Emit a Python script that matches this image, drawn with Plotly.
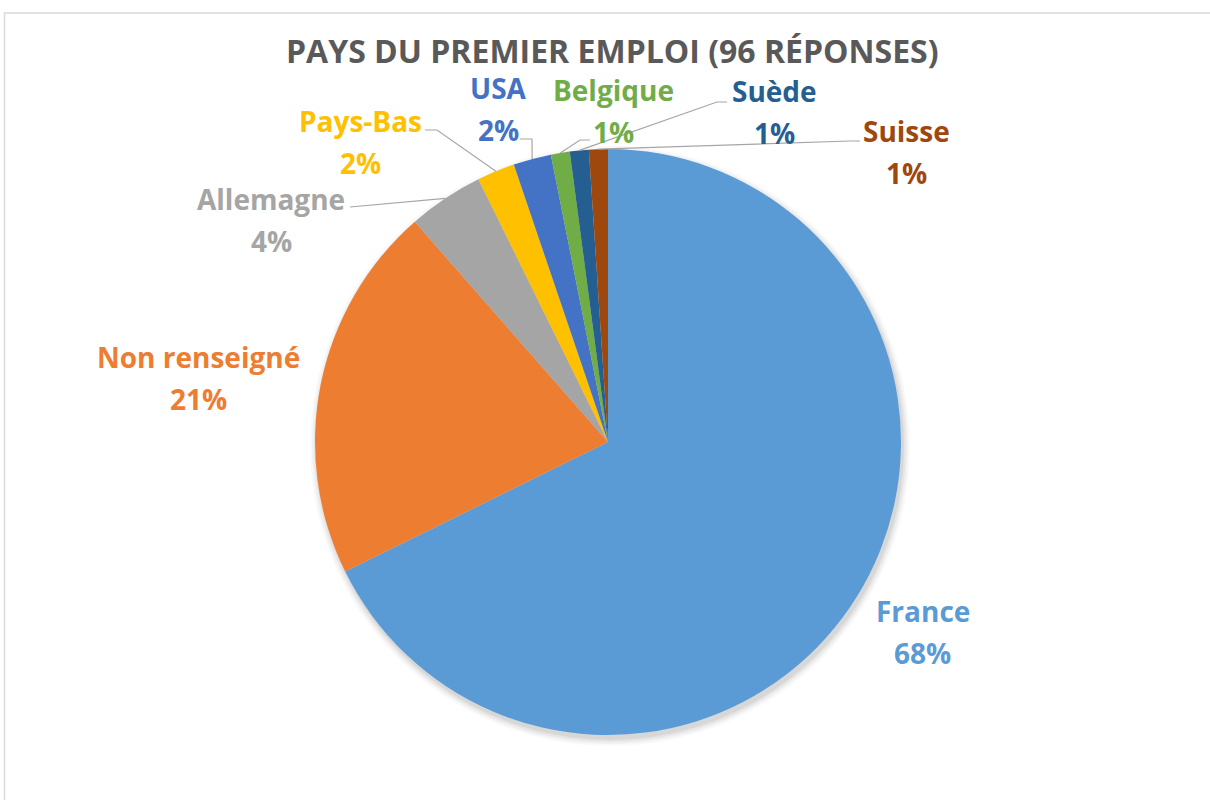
import math
import plotly.graph_objects as go

# ---------------- data ----------------
countries = ["France", "Non renseigné", "Allemagne", "Pays-Bas", "USA", "Belgique", "Suède", "Suisse"]
responses = [65, 20, 4, 2, 2, 1, 1, 1]
colors = ["#5B9BD5", "#ED7D31", "#A5A5A5", "#FFC000", "#4472C4", "#70AD47", "#255E91", "#9E480E"]
title_text = "PAYS DU PREMIER EMPLOI (96 RÉPONSES)"

# ---------------- layout constants (pixels) ----------------
W, H = 1210, 800
CX, CY, R = 608, 442, 293
FONT = "'Open Sans', Lato, sans-serif"

# label centres (name line) in pixels
label_pos = {
    "France": (923, 611),
    "Non renseigné": (198, 357),
    "Allemagne": (271, 199),
    "Pays-Bas": (360, 121),
    "USA": (498, 88),
    "Belgique": (613, 90),
    "Suède": (774, 91),
    "Suisse": (906, 131),
}
LINE_GAP = 42
# leader line start points (near label), last point attaches to slice
leader_start = {
    "Allemagne": [(350, 207)],
    "Pays-Bas": [(425, 130), (437, 130)],
    "USA": [(520, 139), (532, 139)],
    "Belgique": [(590, 140), (580, 140)],
    "Suède": [(727, 102), (717, 102)],
    "Suisse": [(860, 141), (850, 141)],
}


def px(x):
    return x / W


def py(y):
    return 1 - y / H


total = sum(responses)

fig = go.Figure()
fig.add_trace(go.Pie(
    labels=countries,
    values=responses,
    sort=False,
    direction="clockwise",
    rotation=0,
    marker=dict(colors=colors, line=dict(width=0)),
    textinfo="none",
    hoverinfo="label+percent",
    showlegend=False,
    domain=dict(x=[px(CX - R), px(CX + R)], y=[py(CY + R), py(CY - R)]),
))

shapes = []
# chart frame
shapes.append(dict(type="rect", xref="paper", yref="paper",
                   x0=px(4.5), x1=px(W + 20), y0=py(H + 20), y1=py(13),
                   line=dict(color="#D9D9D9", width=1.5), fillcolor="rgba(0,0,0,0)", layer="below"))
# soft shadow behind the pie
for grow, op in [(7, 0.025), (5, 0.035), (3, 0.045), (1, 0.06)]:
    sx, sy = CX + 2, CY + 4
    shapes.append(dict(type="circle", xref="paper", yref="paper",
                       x0=px(sx - R - grow), x1=px(sx + R + grow),
                       y0=py(sy + R + grow), y1=py(sy - R - grow),
                       line=dict(width=0), fillcolor=f"rgba(0,0,0,{op})", layer="below"))

# leader lines from label to slice midpoint on the edge
cum = 0
mid_angles = {}
for c, v in zip(countries, responses):
    mid_angles[c] = (cum + v / 2) / total * 2 * math.pi
    cum += v

for c, pts in leader_start.items():
    a = mid_angles[c]
    ex, ey = CX + R * math.sin(a), CY - R * math.cos(a)
    allpts = pts + [(ex, ey)]
    path = "M " + " L ".join(f"{px(x)},{py(y)}" for x, y in allpts)
    shapes.append(dict(type="path", xref="paper", yref="paper", path=path,
                       line=dict(color="#A6A6A6", width=1.2)))

annotations = []
annotations.append(dict(text=f"<b>{title_text}</b>", x=px(612), y=py(51), xref="paper", yref="paper",
                        showarrow=False, xanchor="center", yanchor="middle",
                        font=dict(family=FONT, size=32, color="#595959")))
for c, v, col in zip(countries, responses, colors):
    lx, ly = label_pos[c]
    pct = round(v / total * 100)
    annotations.append(dict(text=f"<b>{c}</b>", x=px(lx), y=py(ly), xref="paper", yref="paper",
                            showarrow=False, xanchor="center", yanchor="middle",
                            font=dict(family=FONT, size=28, color=col)))
    annotations.append(dict(text=f"<b>{pct}%</b>", x=px(lx), y=py(ly + LINE_GAP), xref="paper", yref="paper",
                            showarrow=False, xanchor="center", yanchor="middle",
                            font=dict(family=FONT, size=28, color=col)))

fig.update_layout(
    width=W, height=H,
    margin=dict(l=0, r=0, t=0, b=0),
    paper_bgcolor="white", plot_bgcolor="white",
    shapes=shapes, annotations=annotations,
)

fig.write_html("out.html", config={"displayModeBar": False},
               post_script="document.body.style.margin='0';document.body.style.overflow='hidden';")
